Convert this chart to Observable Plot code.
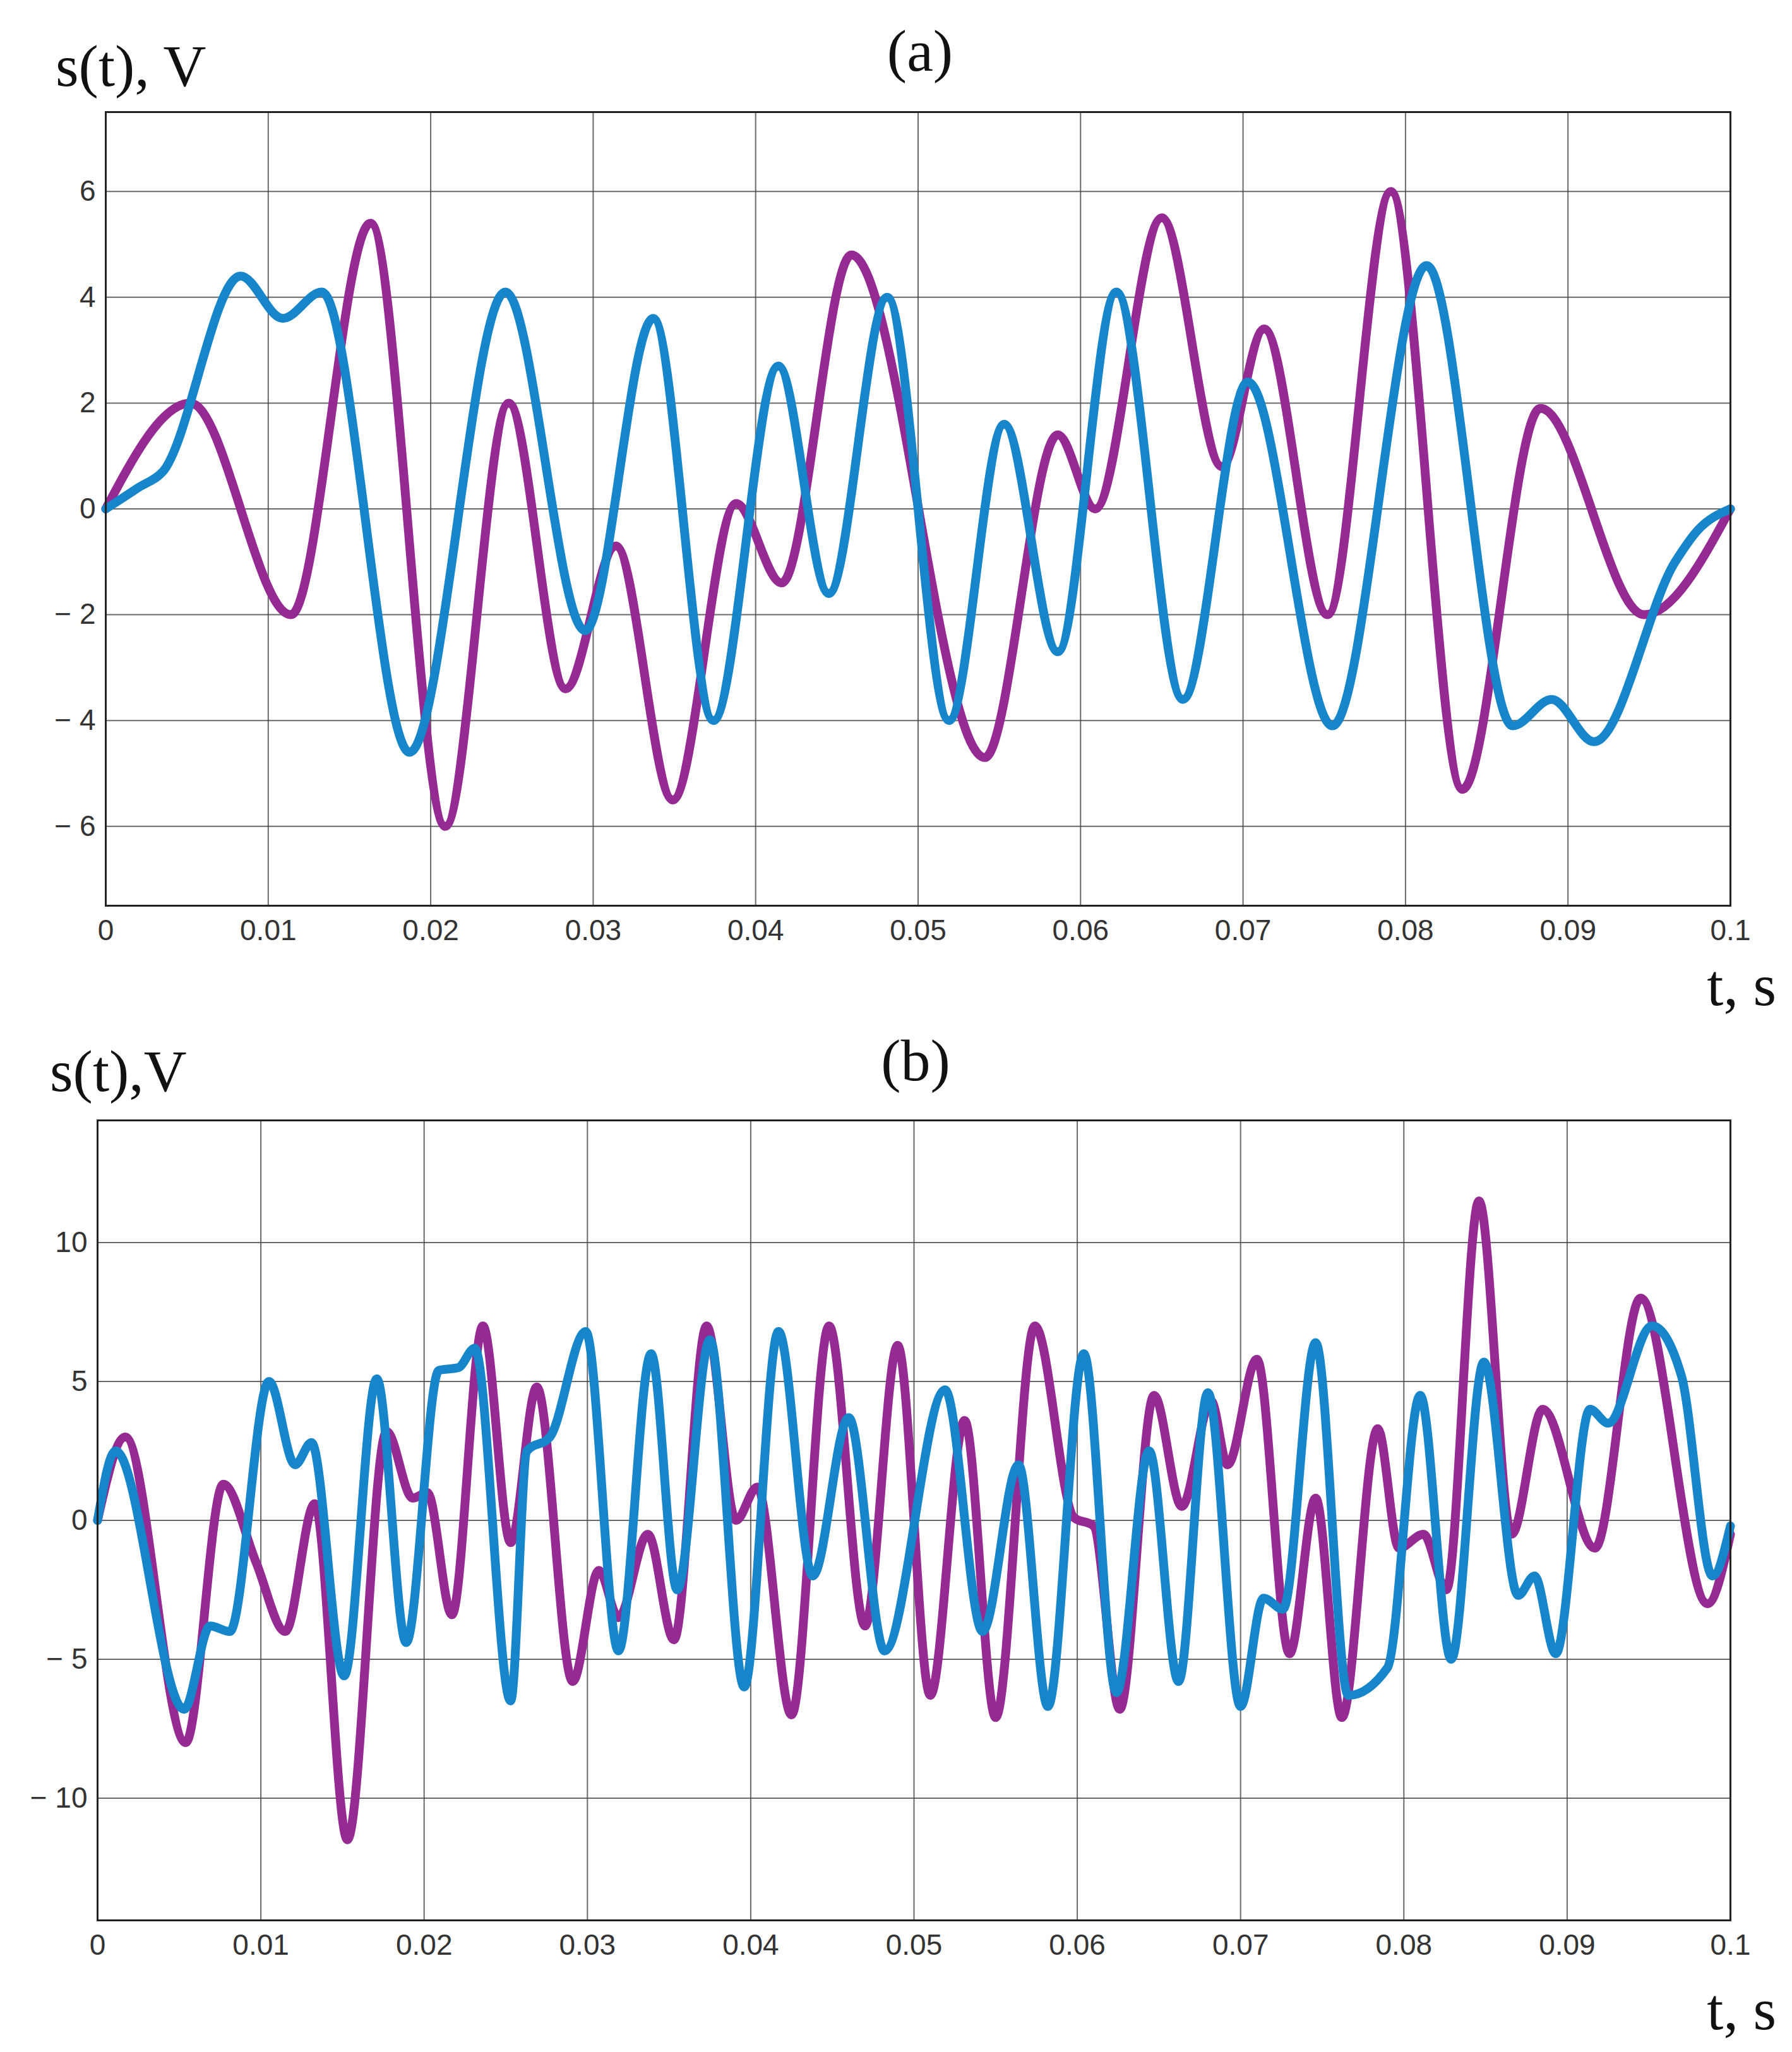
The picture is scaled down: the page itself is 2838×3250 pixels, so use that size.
<!DOCTYPE html>
<html><head><meta charset="utf-8">
<script src="https://cdn.jsdelivr.net/npm/d3@7"></script>
<script src="https://cdn.jsdelivr.net/npm/@observablehq/plot@0.6"></script>
<style>
body{margin:0;background:#fff;width:2838px;height:3250px;position:relative;overflow:hidden}
.p{position:absolute;left:0}
#ov{position:absolute;left:0;top:0}
</style></head><body>
<div class="p" id="a" style="top:0"></div>
<div class="p" id="b" style="top:1700px"></div>
<svg id="ov" width="2838" height="3250" font-family="Liberation Serif, serif" font-size="94" fill="#111">
<text x="88" y="136">s(t), V</text>
<text x="1457" y="112" text-anchor="middle">(a)</text>
<text x="2813" y="1592" text-anchor="end">t, s</text>
<text x="79" y="1728">s(t),V</text>
<text x="1450" y="1711" text-anchor="middle">(b)</text>
<text x="2813" y="3214" text-anchor="end">t, s</text>
</svg>
<script>
const xTicks=[0,0.01,0.02,0.03,0.04,0.05,0.06,0.07,0.08,0.09,0.1];
const yTicksA=[-6,-4,-2,0,2,4,6];
const yTicksB=[-10,-5,0,5,10];
const aPurpleT=[0,0.0052,0.0114,0.0163,0.0209,0.0248,0.0283,0.0314,0.0349,0.0388,0.0416,0.0459,0.0541,0.0586,0.0609,0.065,0.0687,0.0713,0.0752,0.0791,0.0835,0.0883,0.0947,0.1];
const aPurpleV=[0,2.0,-2.0,5.4,-6.0,2.0,-3.4,-0.7,-5.5,0.1,-1.4,4.8,-4.7,1.4,0,5.5,0.8,3.4,-2.0,6.0,-5.3,1.9,-2.0,0];
const aBlueT=[0,0.002,0.0035,0.0083,0.0109,0.0133,0.0187,0.0246,0.0295,0.0337,0.0374,0.0414,0.0445,0.0481,0.0519,0.0553,0.0586,0.0622,0.0663,0.0703,0.0755,0.0813,0.0866,0.089,0.0916,0.0966,0.098,0.1];
const aBlueV=[0,0.4,0.7,4.4,3.6,4.1,-4.6,4.1,-2.3,3.6,-4.0,2.7,-1.6,4.0,-4.0,1.6,-2.7,4.1,-3.6,2.4,-4.1,4.6,-4.1,-3.6,-4.4,-1.0,-0.4,0];
const bPurpleT=[0,0.0017,0.0054,0.0077,0.0097,0.0115,0.0133,0.0153,0.0177,0.0193,0.0202,0.0217,0.0236,0.0253,0.0269,0.0291,0.0307,0.0319,0.0337,0.0353,0.0373,0.0391,0.0404,0.0425,0.0448,0.047,0.049,0.051,0.0531,0.055,0.0574,0.0598,0.061,0.0626,0.0647,0.0664,0.0682,0.0692,0.071,0.073,0.0746,0.0762,0.0784,0.0797,0.0812,0.0826,0.0846,0.0866,0.0885,0.0917,0.0945,0.0986,0.1];
const bPurpleV=[0,3.0,-8.0,1.3,-1.5,-4.0,0.6,-11.5,3.2,0.8,1.0,-3.4,7.0,-0.8,4.8,-5.8,-1.8,-3.5,-0.5,-4.3,7.0,0.0,1.2,-7.0,7.0,-3.8,6.3,-6.3,3.6,-7.1,7.0,0.1,-0.2,-6.8,4.5,0.5,4.3,2.0,5.8,-4.8,0.8,-7.1,3.3,-1.0,-0.5,-2.5,11.5,-0.5,4.0,-1.0,8.0,-3.0,-0.5];
const bBlueT=[0,0.0011,0.0053,0.0069,0.0081,0.0105,0.0121,0.0131,0.0151,0.0171,0.0189,0.0209,0.0221,0.0231,0.0253,0.0263,0.0277,0.0299,0.0319,0.0339,0.0355,0.0375,0.0396,0.0417,0.0438,0.046,0.0482,0.0519,0.0542,0.0564,0.0582,0.0604,0.0624,0.0644,0.0662,0.068,0.07,0.0714,0.0726,0.0746,0.0766,0.079,0.081,0.0829,0.0849,0.087,0.088,0.0893,0.0914,0.0925,0.0952,0.097,0.0989,0.1];
const bBlueV=[0,2.5,-6.8,-3.8,-4.0,5.0,2.0,2.8,-5.6,5.1,-4.4,5.4,5.5,6.2,-6.5,2.5,3.0,6.8,-4.7,6.0,-2.5,6.5,-6.0,6.8,-2.0,3.7,-4.7,4.7,-4.0,2.0,-6.7,6.0,-6.2,2.5,-5.8,4.6,-6.7,-2.8,-3.2,6.4,-6.3,-5.3,4.5,-5.0,5.7,-2.7,-2.0,-4.8,4.0,3.5,7.0,5.2,-2.0,-0.2];
const PURPLE="#952a92", BLUE="#1685c9";
const fmtY=d=>d<0?"\u2212 "+(-d):String(d);
const fmtX=d=>d===0?"0":String(+d.toFixed(2));
function zip(t,v){return t.map((x,i)=>({t:x,v:v[i]}));}
function make(id,h,mt,mb,ml,dom,yt,pT,pV,bT,bV){
  const p=Plot.plot({width:2838,height:h,marginTop:mt,marginBottom:mb,marginLeft:ml,marginRight:98,
    style:{fontFamily:"Liberation Sans, Arial, sans-serif",fontSize:"46px",color:"#333",background:"#fff"},
    x:{domain:[0,0.1],ticks:xTicks,tickFormat:fmtX,label:null,tickSize:0,tickPadding:22},
    y:{domain:dom,ticks:yt,tickFormat:fmtY,label:null,tickSize:0,tickPadding:16},
    marks:[
      Plot.gridX(xTicks,{stroke:"#444",strokeOpacity:0.8,strokeWidth:2}),
      Plot.gridY(yt,{stroke:"#444",strokeOpacity:0.8,strokeWidth:2}),
      Plot.line(zip(pT,pV),{x:"t",y:"v",stroke:PURPLE,strokeWidth:14,curve:"monotone-x"}),
      Plot.line(zip(bT,bV),{x:"t",y:"v",stroke:BLUE,strokeWidth:14,curve:"monotone-x"}),
      Plot.frame({stroke:"#222",strokeWidth:3})
    ]});
  document.getElementById(id).appendChild(p);
}
make("a",1700,177,266,167,[-7.5,7.5],yTicksA,aPurpleT,aPurpleV,aBlueT,aBlueV);
make("b",1550,74,209,154,[-14.4,14.4],yTicksB,bPurpleT,bPurpleV,bBlueT,bBlueV);
</script></body></html>
